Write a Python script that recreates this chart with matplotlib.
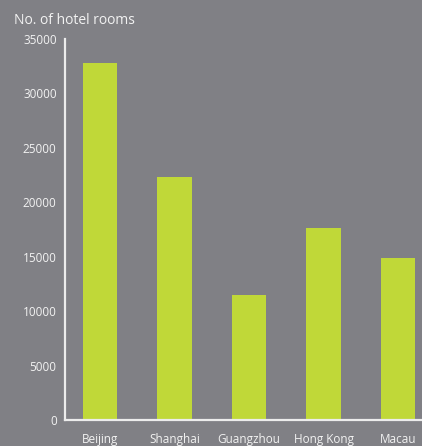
import matplotlib
matplotlib.use('Agg')
import matplotlib.pyplot as plt

cities = ['Beijing', 'Shanghai', 'Guangzhou', 'Hong Kong', 'Macau']
rooms = [32800, 22300, 11500, 17600, 14900]
yticks = [0, 5000, 10000, 15000, 20000, 25000, 30000, 35000]

BG = '#808085'
BAR = '#c0d838'
TXT = '#f2f2f2'
AXIS = '#ececec'

plt.rcParams['font.family'] = ['Open Sans', 'DejaVu Sans']

fig = plt.figure(figsize=(4.22, 4.46), dpi=100, facecolor=BG)
ax = fig.add_axes([0.154, 0.058, 0.846, 0.855], facecolor=BG)

x = range(len(cities))
ax.bar(x, rooms, width=0.46, color=BAR, zorder=2)

ax.set_xlim(-0.47, 4.32)
ax.set_ylim(0, 35000)
ax.set_yticks(yticks)
ax.set_yticklabels([str(v) for v in yticks], color=TXT, fontsize=8.5)
ax.set_xticks(list(x))
ax.set_xticklabels(cities, color=TXT, fontsize=8.5)
ax.tick_params(axis='both', length=0)
ax.tick_params(axis='y', pad=6)
ax.tick_params(axis='x', pad=9)

for side in ('top', 'right'):
    ax.spines[side].set_visible(False)
for side in ('left', 'bottom'):
    ax.spines[side].set_color(AXIS)
    ax.spines[side].set_linewidth(1.6)

fig.text(14 / 422, 1 - 20 / 446, 'No. of hotel rooms', color=TXT,
         fontsize=10, va='center', ha='left')

fig.savefig('out.png', dpi=100, facecolor=BG)
